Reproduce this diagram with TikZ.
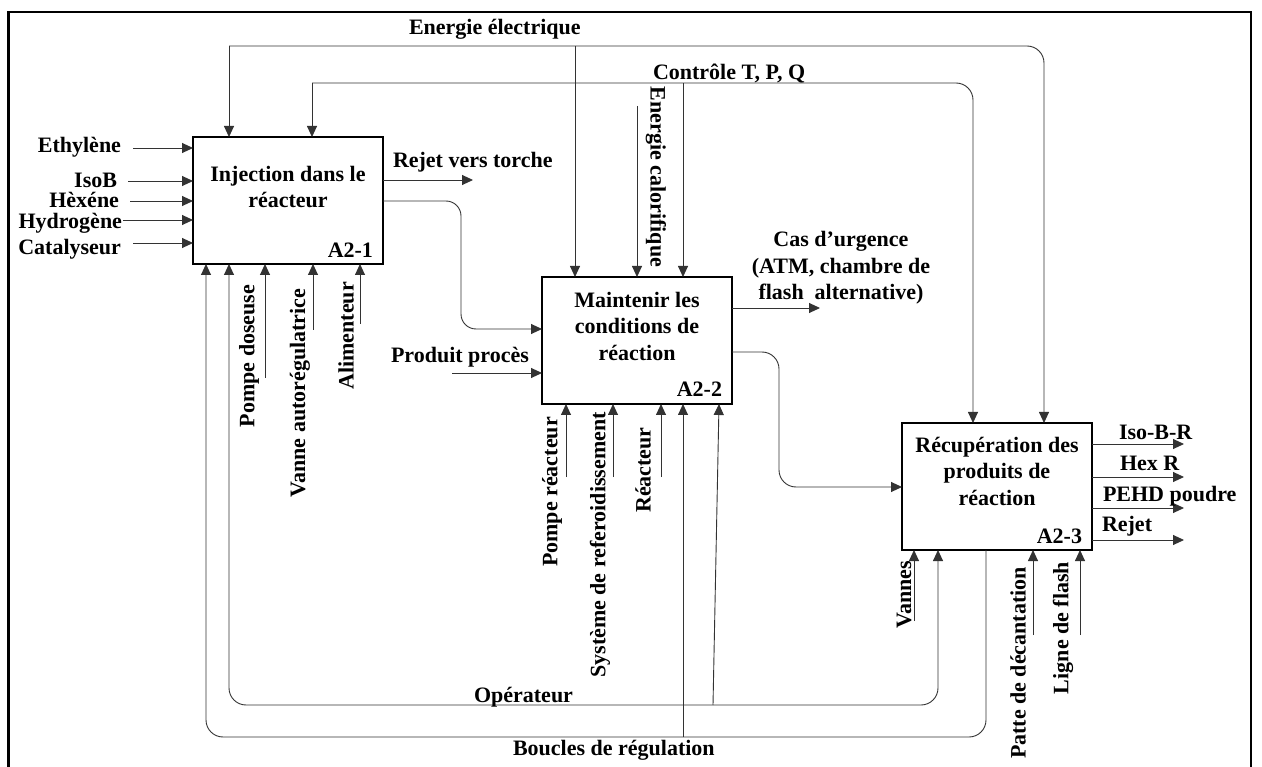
\documentclass[tikz,border=0pt]{standalone}
\usepackage{fontspec}
\setmainfont{Liberation Serif}
\usetikzlibrary{arrows.meta,calc}
\begin{document}
\begin{tikzpicture}[x=1pt,y=-1pt,
  every node/.style={font=\fontsize{22}{26.5}\selectfont\bfseries, inner sep=0pt, outer sep=0pt},
  proc/.style={draw=black, line width=1.1pt, minimum width=190pt, minimum height=127pt, fill=white},
  conn/.style={draw=black!80, line width=0.9pt},
  ah/.tip={Triangle[length=11pt,width=10pt]},
  arr/.style={conn, -ah},
  lbl/.style={align=center},
  vlbl/.style={rotate=90},
]
\useasboundingbox (0,0) rectangle (1262,767);
% outer frame (its lower edge lies below the page)
\draw[line width=2.6pt] (8.5,12) rectangle (1251,800);

% activity boxes
\node[proc] (b1) at (288,200.5) {};
\node[proc] (b2) at (637,340.5) {};
\node[proc] (b3) at (997,486.5) {};
\node[lbl] (t1) at (288,187) {Injection dans le\\réacteur};
\node[lbl] (t2) at (637,326) {Maintenir les\\conditions de\\réaction};
\node[lbl] (t3) at (997,471) {Récupération des\\produits de\\réaction};
\node[anchor=base east] (id1) at (373,258) {A2-1};
\node[anchor=base east] (id2) at (722,397) {A2-2};
\node[anchor=base east] (id3) at (1082,543) {A2-3};

% inputs of A2-1
\coordinate (inEth) at (133,148);
\coordinate (inIso) at (128,181);
\coordinate (inHex) at (130,201);
\coordinate (inHyd) at (123,220);
\coordinate (inCat) at (133,243);
\foreach \c in {inEth,inIso,inHex,inHyd,inCat}
  \draw[arr] (\c) -- (\c -| b1.west);
\node[anchor=base east] (lEth) at (121,153) {Ethylène};
\node[anchor=base east] (lIso) at (117,188) {IsoB};
\node[anchor=base east] (lHex) at (119,208) {Hèxéne};
\node[anchor=base east] (lHyd) at (122,229) {Hydrogène};
\node[anchor=base east] (lCat) at (121,255) {Catalyseur};

% electrical energy
\coordinate (eeL) at (229,46);
\coordinate (eeM) at (575,46);
\coordinate (eeR) at (1044,46);
\draw[arr] (eeL) -- (eeL |- b1.north);
\draw[arr] (eeM) -- (eeM |- b2.north);
\draw[arr, rounded corners=17pt] (eeL) -- (eeR) -- (eeR |- b3.north);
\node[anchor=base west] (lEE) at (409,35) {Energie électrique};

% T, P, Q control
\coordinate (ctL) at (312,83);
\coordinate (ctM) at (683,83);
\coordinate (ctR) at (973,83);
\draw[arr] (ctL) -- (ctL |- b1.north);
\draw[arr] (ctM) -- (ctM |- b2.north);
\draw[arr, rounded corners=17pt] (ctL) -- (ctR) -- (ctR |- b3.north);
\node[anchor=base west] (lCT) at (653,80) {Contrôle T, P, Q};

% heat
\coordinate (ecal) at (637,106);
\draw[arr] (ecal) -- (ecal |- b2.north);
\node[rotate=-90] (lEC) at (656,177) {Energie calorifique};

% outputs of A2-1
\coordinate (rjt) at (473,180);
\draw[arr] (rjt -| b1.east) -- (rjt);
\node[anchor=base west] (lRT) at (393,168) {Rejet vers torche};
\coordinate (k1) at (461,201);
\coordinate (k2) at (461,329);
\draw[arr, rounded corners=15pt] (k1 -| b1.east) -- (k1) -- (k2) -- (k2 -| b2.west);

% process product
\coordinate (pp) at (452,373);
\draw[arr] (pp) -- (pp -| b2.west);
\node[anchor=base west] (lPP) at (391,363) {Produit procès};

% outputs of A2-2
\coordinate (cu) at (820,308);
\draw[arr] (cu -| b2.east) -- (cu);
\node[lbl] (lCU) at (841,268) {Cas d’urgence\\(ATM, chambre de\\flash\ \ alternative)};
\coordinate (k3) at (779,352);
\coordinate (k4) at (779,487);
\draw[arr, rounded corners=17pt] (k3 -| b2.east) -- (k3) -- (k4) -- (k4 -| b3.west);

% outputs of A2-3
\coordinate (o1) at (1184,444);
\coordinate (o2) at (1184,477);
\coordinate (o3) at (1184,508);
\coordinate (o4) at (1184,540);
\foreach \c in {o1,o2,o3,o4}
  \draw[arr] (\c -| b3.east) -- (\c);
\node[anchor=base west] (lIBR) at (1119,439) {Iso-B-R};
\node[anchor=base west] (lHR) at (1120,470) {Hex R};
\node[anchor=base west] (lPE) at (1103,501) {PEHD poudre};
\node[anchor=base west] (lRJ) at (1102,531) {Rejet};

% mechanisms
\coordinate (m1) at (265,378);
\coordinate (m2) at (313,330);
\coordinate (m3) at (360,324);
\foreach \c in {m1,m2,m3}
  \draw[arr] (\c) -- (\c |- b1.south);
\coordinate (m4) at (566,477);
\coordinate (m5) at (613,477);
\coordinate (m6) at (661,477);
\foreach \c in {m4,m5,m6}
  \draw[arr] (\c) -- (\c |- b2.south);
\coordinate (m7) at (914,621);
\coordinate (m8) at (1033,635);
\coordinate (m9) at (1080,635);
\foreach \c in {m7,m8,m9}
  \draw[arr] (\c) -- (\c |- b3.south);
\node[vlbl] (lPD) at (249,356) {Pompe doseuse};
\node[vlbl] (lVA) at (300,393) {Vanne autorégulatrice};
\node[vlbl] (lAL) at (346,336) {Alimenteur};
\node[vlbl] (lPR) at (552,492) {Pompe réacteur};
\node[vlbl] (lSR) at (600,545) {Système de referoidissement};
\node[vlbl] (lRE) at (643,470) {Réacteur};
\node[vlbl] (lVN) at (904,595) {Vannes};
\node[vlbl] (lPA) at (1018,663) {Patte de décantation};
\node[vlbl] (lLF) at (1063,628) {Ligne de flash};

% operator
\coordinate (opL) at (229,705);
\coordinate (opM) at (713,705);
\coordinate (opR) at (938,705);
\draw[conn, ah-ah, rounded corners=17pt] (opL |- b1.south) -- (opL) -- (opR) -- (opR |- b3.south);
\draw[arr] (opM) -- ($(b2.south east)+(-13,0)$);
\node[anchor=base east] (lOP) at (573,702) {Opérateur};

% control loops
\coordinate (bcL) at (206,737);
\coordinate (bcM) at (683,737);
\coordinate (bcR) at (986,737);
\draw[arr, rounded corners=17pt] (bcR |- b3.south) -- (bcR) -- (bcL) -- (bcL |- b1.south);
\draw[arr] (bcM) -- (bcM |- b2.south);
\node[anchor=base west] (lBR) at (513,755) {Boucles de régulation};
\end{tikzpicture}
\end{document}
